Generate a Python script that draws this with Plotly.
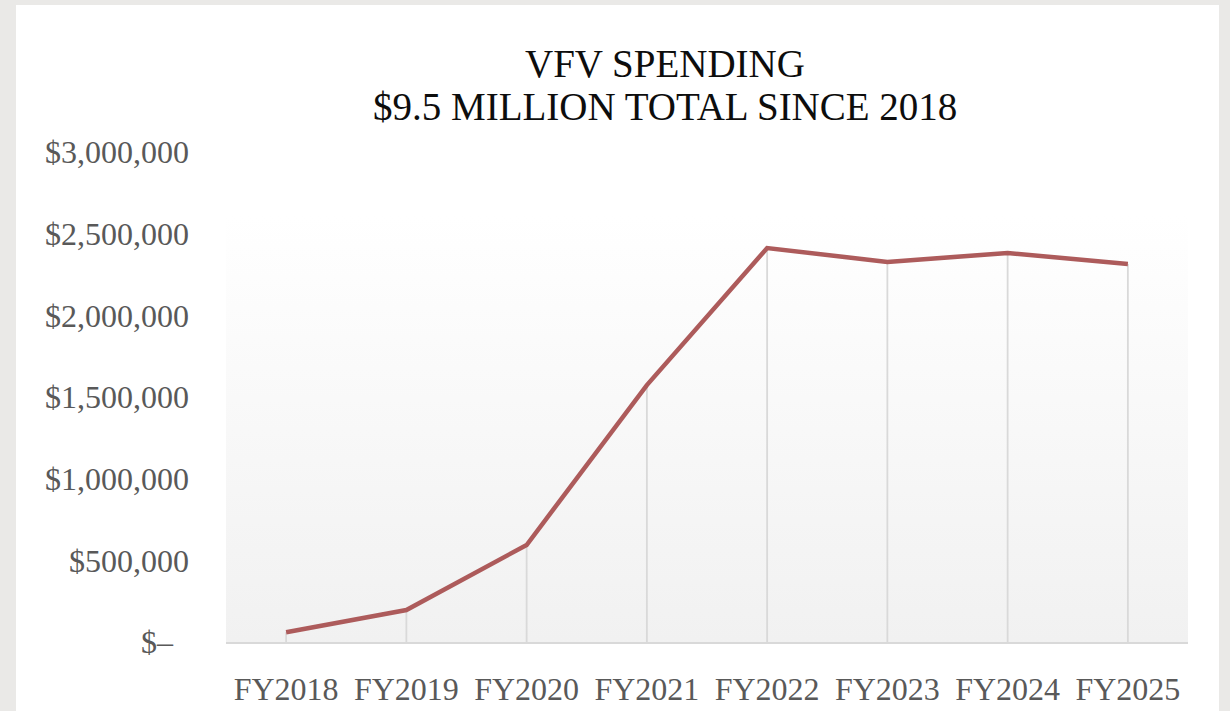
"""VFV spending line chart, FY2018-FY2025."""

import plotly.graph_objects as go

FISCAL_YEARS = ["FY2018", "FY2019", "FY2020", "FY2021", "FY2022", "FY2023", "FY2024", "FY2025"]
SPENDING = [60000, 196000, 594000, 1573000, 2412000, 2327000, 2382000, 2314000]

Y_TICKS = [0, 500000, 1000000, 1500000, 2000000, 2500000, 3000000]
# accounting-style zero label, padded like the spreadsheet does
Y_TICK_TEXT = ["$\u2013\u00a0\u00a0", "$500,000", "$1,000,000", "$1,500,000", "$2,000,000", "$2,500,000", "$3,000,000"]

TITLE_LINES = ["VFV SPENDING", "$9.5 MILLION TOTAL SINCE 2018"]

FONT = "Liberation Serif"
LINE_COLOR = "#AD5B5B"
DROP_COLOR = "#D9D9D9"
TICK_COLOR = "#595959"

W, H = 1230, 711
L, R, T, B = 226, 42, 152, 69
plot_w, plot_h = W - L - R, H - T - B


def px_to_paper_x(px):
    return (px - L) / plot_w


def px_to_paper_y(py):
    return (H - B - py) / plot_h


x_idx = list(range(len(FISCAL_YEARS)))
grad_top = 3000000 * (H - B - 216) / plot_h

fig = go.Figure()

# plot area gradient (white at top, light grey at the bottom)
fig.add_trace(
    go.Scatter(
        x=[-0.5, len(x_idx) - 0.5, len(x_idx) - 0.5, -0.5, -0.5],
        y=[0, 0, grad_top, grad_top, 0],
        mode="lines",
        line=dict(width=0),
        fill="toself",
        fillgradient=dict(type="vertical", colorscale=[[0, "#F1F1F1"], [1, "#FFFFFF"]]),
        hoverinfo="skip",
        showlegend=False,
    )
)

# drop lines from each point down to the axis
fig.add_trace(
    go.Scatter(
        x=x_idx,
        y=SPENDING,
        mode="markers",
        marker=dict(size=0.1, color="rgba(0,0,0,0)"),
        error_y=dict(
            type="data",
            symmetric=False,
            array=[0] * len(SPENDING),
            arrayminus=SPENDING,
            color=DROP_COLOR,
            thickness=1.8,
            width=0,
        ),
        hoverinfo="skip",
        showlegend=False,
    )
)

fig.add_trace(
    go.Scatter(
        x=x_idx,
        y=SPENDING,
        mode="lines",
        line=dict(color=LINE_COLOR, width=4.5),
        name="VFV Spending",
        showlegend=False,
    )
)

# white chart panel on the grey page
fig.add_shape(
    type="rect",
    xref="paper",
    yref="paper",
    x0=px_to_paper_x(16),
    x1=px_to_paper_x(1219),
    y0=px_to_paper_y(720),
    y1=px_to_paper_y(5),
    fillcolor="white",
    line=dict(width=0),
    layer="below",
)

# two title lines, placed separately to get the tight line spacing
for text, cy in zip(TITLE_LINES, [63, 106]):
    fig.add_annotation(
        text=text,
        xref="paper",
        yref="paper",
        x=px_to_paper_x(665),
        y=px_to_paper_y(cy),
        xanchor="center",
        yanchor="middle",
        showarrow=False,
        font=dict(family=FONT, size=39, color="#0D0D0D"),
    )

fig.update_layout(
    width=W,
    height=H,
    margin=dict(l=L, r=R, t=T, b=B),
    paper_bgcolor="#EAE9E7",
    plot_bgcolor="rgba(0,0,0,0)",
    font=dict(family=FONT, color=TICK_COLOR),
    xaxis=dict(
        range=[-0.5, len(x_idx) - 0.5],
        tickvals=x_idx,
        ticktext=FISCAL_YEARS,
        showgrid=False,
        zeroline=False,
        showline=True,
        linecolor=DROP_COLOR,
        linewidth=2,
        ticks="",
        tickfont=dict(family=FONT, size=32, color=TICK_COLOR),
        ticklabelstandoff=18,
        automargin=False,
    ),
    yaxis=dict(
        range=[0, 3000000],
        tickvals=Y_TICKS,
        ticktext=Y_TICK_TEXT,
        showgrid=False,
        zeroline=False,
        showline=False,
        ticks="",
        tickfont=dict(family=FONT, size=32, color=TICK_COLOR),
        ticklabelstandoff=36,
        automargin=False,
    ),
)

fig.write_html(
    "out.html",
    config={"displayModeBar": False},
    post_script="document.body.style.margin = '0';",
)
